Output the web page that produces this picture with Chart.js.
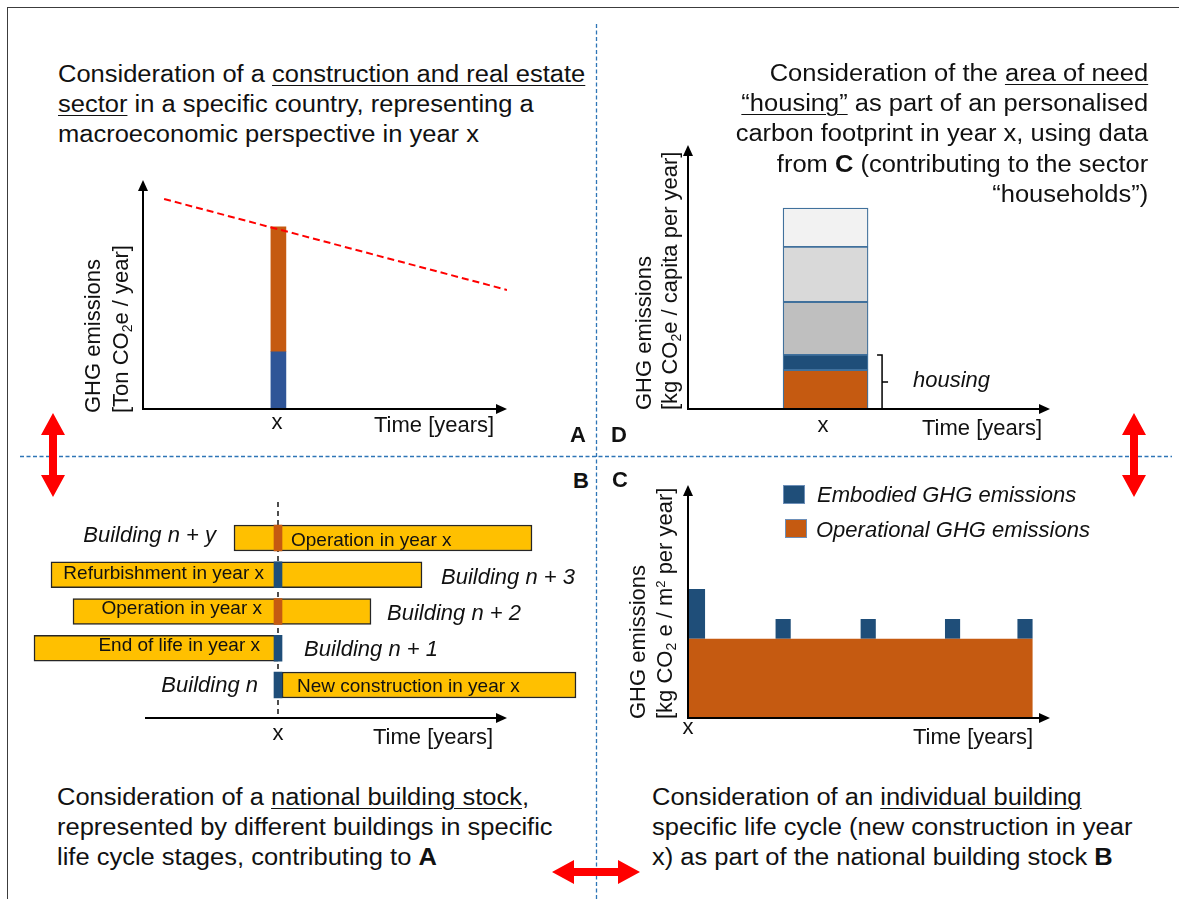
<!DOCTYPE html>
<html>
<head>
<meta charset="utf-8">
<script src="https://cdn.jsdelivr.net/npm/chart.js@4.4.1/dist/chart.umd.min.js"></script>
<style>
  html, body { margin: 0; padding: 0; background: #fff; }
  body { width: 1179px; height: 899px; position: relative; overflow: hidden;
         font-family: "Liberation Sans", Arial, sans-serif; color: #111; }
  .frame { position: absolute; left: 7px; top: 7px; width: 1200px; height: 920px;
           border-left: 1.5px solid #3c3c3c; border-top: 1.5px solid #3c3c3c; }
  .cw { position: absolute; }
  .cw canvas { display: block; }
  .txt { position: absolute; font-size: 23.5px; line-height: 30.3px; white-space: nowrap;
         transform: scaleX(1.085); transform-origin: 0 0; }
  .txt.r { transform-origin: 100% 0; text-align: right; }
  .u { text-decoration: underline; text-decoration-thickness: 1.3px; text-underline-offset: 3px; }
  .lbl { position: absolute; font-size: 22px; line-height: 26px; white-space: nowrap; }
  .mid { transform: translateX(-50%); }
  .it { font-style: italic; }
  .bar { position: absolute; font-size: 19px; line-height: 26px; white-space: nowrap; }
  .bld { position: absolute; font-size: 22px; line-height: 26px; font-style: italic; white-space: nowrap; }
  .ytitle { position: absolute; transform-origin: 0 0; transform: rotate(-90deg);
            font-size: 22px; white-space: nowrap; }
  sub { font-size: 14px; line-height: 0; vertical-align: -4px; }
  sup { font-size: 13px; line-height: 0; vertical-align: 7px; }
  .letter { position: absolute; font-size: 22px; font-weight: bold; line-height: 26px; }
  .sq { position: absolute; width: 22px; height: 19px; box-sizing: border-box; border: 1.5px solid #6d8fb8; }
  svg.overlay { position: absolute; left: 0; top: 0; }
</style>
</head>
<body>
<div class="frame"></div>

<svg class="overlay" width="1179" height="899">
  <line x1="596.5" y1="24" x2="596.5" y2="899" stroke="#2e75b6" stroke-width="1.3" stroke-dasharray="4 2.5"/>
  <line x1="20" y1="456.5" x2="1172" y2="456.5" stroke="#2e75b6" stroke-width="1.3" stroke-dasharray="4 2.5"/>
  <polygon fill="#ff0000" points="53,413 65,435 57,435 57,475 65,475 53,497 41,475 49,475 49,435 41,435"/>
  <polygon fill="#ff0000" points="1134,413 1146,435 1138,435 1138,475 1146,475 1134,497 1122,475 1130,475 1130,435 1122,435"/>
  <polygon fill="#ff0000" points="552,872 574,860 574,868 618,868 618,860 640,872 618,884 618,876 574,876 574,884"/>
</svg>

<div class="cw" style="left:133px;top:170px;width:384px;height:250px"><canvas id="chartA"></canvas></div>
<div class="cw" style="left:678px;top:135px;width:382px;height:285px"><canvas id="chartD"></canvas></div>
<div class="cw" style="left:10px;top:495px;width:580px;height:235px"><canvas id="chartB"></canvas></div>
<div class="cw" style="left:678px;top:475px;width:382px;height:254px"><canvas id="chartC"></canvas></div>

<!-- Panel A -->
<div class="txt" style="left:58px;top:58.5px">Consideration of a <span class="u">construction and real estate</span><br><span class="u">sector</span> in a specific country, representing a<br>macroeconomic perspective in year x</div>
<div class="ytitle" style="left:79px;top:413px;line-height:28px">GHG emissions<br>[Ton CO<sub>2</sub>e / year]</div>
<div class="lbl mid" style="left:277px;top:409.4px">x</div>
<div class="lbl" style="left:374px;top:412.4px">Time [years]</div>
<div class="letter" style="left:570px;top:422px">A</div>

<!-- Panel D -->
<div class="txt r" style="right:31px;top:57.7px">Consideration of the <span class="u">area of need</span><br><span class="u">“housing”</span> as part of an personalised<br>carbon footprint in year x, using data<br>from <b>C</b> (contributing to the sector<br>“households”)</div>
<div class="ytitle" style="left:630.6px;top:410px;line-height:25.5px">GHG emissions<br>[kg CO<sub>2</sub>e / capita per year]</div>
<div class="lbl mid" style="left:823px;top:412.4px">x</div>
<div class="lbl" style="left:922px;top:415.4px">Time [years]</div>
<div class="lbl it" style="left:913px;top:367.4px">housing</div>
<div class="letter" style="left:611px;top:422px">D</div>

<!-- Panel B -->
<div class="letter" style="left:573px;top:468px">B</div>
<div class="bar" style="left:291px;top:527px">Operation in year x</div>
<div class="bar" style="right:915px;top:560.4px">Refurbishment in year x</div>
<div class="bar" style="right:917px;top:595.4px">Operation in year x</div>
<div class="bar" style="right:919px;top:632px">End of life in year x</div>
<div class="bar" style="left:297px;top:673px">New construction in year x</div>
<div class="bld" style="right:963px;top:522.4px">Building n + y</div>
<div class="bld" style="left:441px;top:564.4px">Building n + 3</div>
<div class="bld" style="left:387px;top:600.4px">Building n + 2</div>
<div class="bld" style="left:304px;top:636px">Building n + 1</div>
<div class="bld" style="right:921px;top:672px">Building n</div>
<div class="lbl mid" style="left:278px;top:720px">x</div>
<div class="lbl" style="left:373px;top:724.4px">Time [years]</div>
<div class="txt" style="left:57px;top:781.7px">Consideration of a <span class="u">national building stock</span>,<br>represented by different buildings in specific<br>life cycle stages, contributing to <b>A</b></div>

<!-- Panel C -->
<div class="letter" style="left:612px;top:467px">C</div>
<div class="sq" style="left:783px;top:485px;background:#1f4e79"></div>
<div class="sq" style="left:785px;top:519px;background:#c55a11"></div>
<div class="lbl it" style="left:817px;top:482.4px">Embodied GHG emissions</div>
<div class="lbl it" style="left:816px;top:517.4px">Operational GHG emissions</div>
<div class="ytitle" style="left:625px;top:719px;line-height:26.5px">GHG emissions<br>[kg CO<sub>2</sub> e / m<sup>2</sup> per year]</div>
<div class="lbl mid" style="left:688px;top:714.4px">x</div>
<div class="lbl" style="left:913px;top:724.4px">Time [years]</div>
<div class="txt" style="left:652px;top:781.7px">Consideration of an <span class="u">individual building</span><br>specific life cycle (new construction in year<br>x) as part of the national building stock <b>B</b></div>

<script>
// Panel A: construction and real estate sector in year x
const sectorYear = 3.72;
const sectorEmbodied = 25;
const sectorOperational = 54.5;
const trendYears = [0.58, 10];
const trendValues = [91.7, 52];

// Panel D: personal carbon footprint in year x (bottom to top)
const footprintParts = ['Housing operational', 'Housing embodied', 'Other area 1', 'Other area 2', 'Other area 3'];
const footprintValues = [14.8, 5.7, 20, 20.9, 14.7];
const footprintColors = ['#c55a11', '#1f4e79', '#bfbfbf', '#d9d9d9', '#f2f2f2'];
const footprintYear = 3.8;

// Panel B: building stock, life spans relative to year x
const buildings = ['Building n + y', 'Building n + 3', 'Building n + 2', 'Building n + 1', 'Building n'];
const lifeStart = [-4.4, -22.7, -20.5, -24.4, 0.4];
const lifeEnd = [25.4, 14.4, 9.3, 0, 29.8];
const stageType = ['operational', 'embodied', 'operational', 'embodied', 'embodied'];
const yearXSpan = [-0.4, 0.4];
const timeAxis = [-13.3, 22.9];

// Panel C: one building life cycle
const lifeSpan = [0, 60];
const operationalLevel = 34;
const embodiedStart = [0, 15.2, 30, 44.7, 57.3];
const embodiedEnd = [3, 17.9, 32.7, 47.4, 60];
const embodiedValue = [21.4, 8.5, 8.5, 8.5, 8.5];

const BLUE = '#1f4e79';
const ORANGE = '#c55a11';

// arrow from (x1,y1) to (x2,y2), filled head at the end
function arrow(ctx, x1, y1, x2, y2) {
    const ang = Math.atan2(y2 - y1, x2 - x1);
    const len = 11, hw = 5;
    const c = Math.cos(ang), s = Math.sin(ang);
    ctx.save();
    ctx.strokeStyle = '#000';
    ctx.fillStyle = '#000';
    ctx.lineWidth = 2;
    ctx.beginPath();
    ctx.moveTo(x1, y1);
    ctx.lineTo(x2 - c * len, y2 - s * len);
    ctx.stroke();
    ctx.beginPath();
    ctx.moveTo(x2, y2);
    ctx.lineTo(x2 - c * len - s * hw, y2 - s * len + c * hw);
    ctx.lineTo(x2 - c * len + s * hw, y2 - s * len - c * hw);
    ctx.closePath();
    ctx.fill();
    ctx.restore();
}

const axesPlugin = {
    id: 'axes',
    afterDatasetsDraw(chart) {
        const a = chart.chartArea;
        arrow(chart.ctx, a.left, a.bottom, a.left, a.top);
        arrow(chart.ctx, a.left - 1, a.bottom, a.right, a.bottom);
    }
};

function baseOptions(pad, extra) {
    return Object.assign({
        responsive: true,
        maintainAspectRatio: false,
        animation: false,
        events: [],
        layout: { padding: pad },
        plugins: { legend: { display: false }, tooltip: { enabled: false } }
    }, extra);
}

// ---------- Panel A ----------
new Chart(document.getElementById('chartA'), {
    type: 'bar',
    data: {
        datasets: [
            {
                data: [{ x: sectorYear, y: [0, sectorEmbodied] }],
                backgroundColor: '#2f5597', barThickness: 15, grouped: false, order: 2
            },
            {
                data: [{ x: sectorYear, y: [sectorEmbodied, sectorEmbodied + sectorOperational] }],
                backgroundColor: ORANGE, barThickness: 15, grouped: false, order: 2
            },
            {
                type: 'line',
                data: trendYears.map((x, i) => ({ x: x, y: trendValues[i] })),
                borderColor: '#ff0000', borderWidth: 2, borderDash: [7, 4],
                pointRadius: 0, fill: false, order: 1
            }
        ]
    },
    options: baseOptions({ left: 10, top: 10, right: 10, bottom: 11 }, {
        scales: {
            x: { type: 'linear', min: 0, max: 10, offset: false, display: false },
            y: { min: 0, max: 100, display: false }
        }
    }),
    plugins: [axesPlugin]
});

// ---------- Panel D ----------
let cum = 0;
const footprintSets = footprintValues.map((v, i) => {
    const seg = {
        label: footprintParts[i],
        data: [{ x: footprintYear, y: [cum, cum + v] }],
        backgroundColor: footprintColors[i],
        borderColor: '#41719c', borderWidth: 1.3, borderSkipped: false,
        barThickness: 85, grouped: false
    };
    cum += v;
    return seg;
});
const housingTop = footprintValues[0] + footprintValues[1];

const bracketPlugin = {
    id: 'bracket',
    afterDatasetsDraw(chart) {
        const bar = chart.getDatasetMeta(1).data[0];
        const y = chart.scales.y;
        const x = bar.x + bar.width / 2 + 14;
        const top = y.getPixelForValue(housingTop);
        const bot = y.getPixelForValue(0);
        const ctx = chart.ctx;
        ctx.save();
        ctx.strokeStyle = '#000';
        ctx.lineWidth = 1.5;
        ctx.beginPath();
        ctx.moveTo(x - 5, top);
        ctx.lineTo(x, top);
        ctx.lineTo(x, bot);
        ctx.lineTo(x - 5, bot);
        ctx.moveTo(x, (top + bot) / 2);
        ctx.lineTo(x + 6, (top + bot) / 2);
        ctx.stroke();
        ctx.restore();
    }
};

new Chart(document.getElementById('chartD'), {
    type: 'bar',
    data: { datasets: footprintSets },
    options: baseOptions({ left: 10, top: 10, right: 10, bottom: 11 }, {
        scales: {
            x: { type: 'linear', min: 0, max: 10, offset: false, display: false },
            y: { min: 0, max: 100, display: false }
        }
    }),
    plugins: [axesPlugin, bracketPlugin]
});

// ---------- Panel B ----------
const stockPlugin = {
    id: 'stock',
    beforeDatasetsDraw(chart) {
        const a = chart.chartArea, ctx = chart.ctx;
        const x = chart.scales.x.getPixelForValue(0);
        ctx.save();
        ctx.strokeStyle = '#222';
        ctx.lineWidth = 1.6;
        ctx.setLineDash([5, 4]);
        ctx.beginPath();
        ctx.moveTo(x, a.top - 17.6);
        ctx.lineTo(x, a.bottom + 14.6);
        ctx.stroke();
        ctx.restore();
    },
    afterDatasetsDraw(chart) {
        const a = chart.chartArea, xs = chart.scales.x;
        const y = a.bottom + 14.6;
        arrow(chart.ctx, xs.getPixelForValue(timeAxis[0]), y, xs.getPixelForValue(timeAxis[1]), y);
    }
};

new Chart(document.getElementById('chartB'), {
    type: 'bar',
    data: {
        labels: buildings,
        datasets: [
            {
                label: 'Life span',
                data: lifeStart.map((s, i) => [s, lifeEnd[i]]),
                backgroundColor: '#ffc000', borderColor: '#262626', borderWidth: 1.5,
                borderSkipped: false, barThickness: 26, grouped: false, order: 2
            },
            {
                label: 'Year x',
                data: buildings.map(() => yearXSpan.slice()),
                backgroundColor: stageType.map(t => t === 'operational' ? ORANGE : BLUE),
                borderWidth: 0, barThickness: 26, grouped: false, order: 1
            }
        ]
    },
    options: baseOptions({ left: 18, top: 24.6, right: 12, bottom: 26.6 }, {
        indexAxis: 'y',
        scales: {
            x: { type: 'linear', min: -25, max: 30, display: false },
            y: { display: false }
        }
    }),
    plugins: [stockPlugin]
});

// ---------- Panel C ----------
const lifeSets = [{
    label: 'Operational GHG emissions',
    data: lifeSpan.map(x => ({ x: x, y: operationalLevel })),
    backgroundColor: ORANGE, borderColor: 'rgba(0,0,0,0)', borderWidth: 0,
    pointRadius: 0, fill: 'origin', tension: 0
}];
embodiedStart.forEach((s, i) => {
    const top = operationalLevel + embodiedValue[i];
    lifeSets.push({
        label: 'Embodied GHG emissions',
        data: [{ x: s, y: top }, { x: embodiedEnd[i], y: top }],
        backgroundColor: BLUE, borderColor: 'rgba(0,0,0,0)', borderWidth: 0,
        pointRadius: 0, fill: { value: operationalLevel }, tension: 0
    });
});

new Chart(document.getElementById('chartC'), {
    type: 'line',
    data: { datasets: lifeSets },
    options: baseOptions({ left: 10, top: 10, right: 10, bottom: 11 }, {
        scales: {
            x: { type: 'linear', min: 0, max: 63, display: false },
            y: { min: 0, max: 100, display: false }
        }
    }),
    plugins: [axesPlugin]
});
</script>
</body>
</html>
